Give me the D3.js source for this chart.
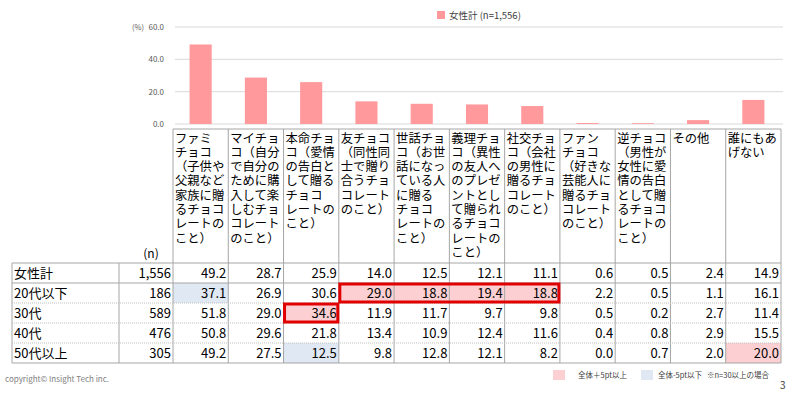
<!DOCTYPE html>
<html>
<head>
<meta charset="utf-8">
<script src="https://cdn.jsdelivr.net/npm/d3@7"></script>
<style>
  body { margin:0; background:#fff; }
  svg { display:block; font-family:"Noto Sans CJK JP","Noto Sans",sans-serif; }
</style>
</head>
<body>
<svg id="chart" width="800" height="399"></svg>
<script>
// Categories (header text, line-broken as in the table)
const categories = ["ファミチョコ","マイチョコ","本命チョコ","友チョコ","世話チョコ","義理チョコ","社交チョコ","ファンチョコ","逆チョコ","その他","誰にもあげない"];
const headerLines = [
  ["ファミ","チョコ","（子供や","父親など","家族に贈","るチョコ","レートの","こと）"],
  ["マイチョ","コ（自分","で自分の","ために購","入して楽","しむチョ","コレート","のこと）"],
  ["本命チョ","コ（愛情","の告白と","して贈る","チョコ","レートの","こと）"],
  ["友チョコ","（同性同","士で贈り","合うチョ","コレート","のこと）"],
  ["世話チョ","コ（お世","話になっ","ている人","に贈る","チョコ","レートの","こと）"],
  ["義理チョ","コ（異性","の友人へ","のプレゼ","ントとし","て贈られ","るチョコ","レートの","こと）"],
  ["社交チョ","コ（会社","の男性に","贈るチョ","コレート","のこと）"],
  ["ファン","チョコ","（好きな","芸能人に","贈るチョ","コレート","のこと）"],
  ["逆チョコ","（男性が","女性に愛","情の告白","として贈","るチョコ","レートの","こと）"],
  ["その他"],
  ["誰にもあ","げない"]
];
const rowLabels = ["女性計","20代以下","30代","40代","50代以上"];
const rowN = [1556, 186, 589, 476, 305];
const values = [
  [49.2, 28.7, 25.9, 14.0, 12.5, 12.1, 11.1, 0.6, 0.5, 2.4, 14.9],
  [37.1, 26.9, 30.6, 29.0, 18.8, 19.4, 18.8, 2.2, 0.5, 1.1, 16.1],
  [51.8, 29.0, 34.6, 11.9, 11.7,  9.7,  9.8, 0.5, 0.2, 2.7, 11.4],
  [50.8, 29.6, 21.8, 13.4, 10.9, 12.4, 11.6, 0.4, 0.8, 2.9, 15.5],
  [49.2, 27.5, 12.5,  9.8, 12.8, 12.1,  8.2, 0.0, 0.7, 2.0, 20.0]
];
const yTicks = [0, 20, 40, 60];
// red annotation boxes: [row, first column, last column]
const redBoxes = [[1, 3, 6], [2, 2, 2]];

const svg = d3.select("#chart");
const pink = "#ff999c", hiPink = "#fcd0d2", hiBlue = "#dfe8f3", lineCol = "#a6a6a6";

// layout
const tableLeft = 12, labelRight = 119, nRight = 173, tableRight = 781;
const headTop = 129, dataTop = 263, rowH = 20;

const x = d3.scaleBand().domain(categories).range([nRight, tableRight]).padding(0);
const y = d3.scaleLinear().domain([0, 60]).range([124, 27]);
const rowY = d3.scaleBand().domain(rowLabels).range([dataTop, dataTop + rowH * rowLabels.length]);

// ---- bar chart ----
const gGrid = svg.append("g");
gGrid.selectAll("line").data(yTicks).join("line")
  .attr("x1", 175).attr("x2", 783)
  .attr("y1", d => y(d)).attr("y2", d => y(d))
  .attr("stroke", "#d9d9d9").attr("stroke-width", 1);
gGrid.selectAll("text").data(yTicks).join("text")
  .attr("x", 164).attr("y", d => y(d) + 3)
  .attr("text-anchor", "end").attr("font-size", 8).attr("fill", "#595959")
  .text(d => d3.format(".1f")(d));
svg.append("text").attr("x", 132).attr("y", 30).attr("font-size", 7.5).attr("fill", "#595959").text("(%)");

const barW = x.bandwidth() * 0.4;
svg.append("g").selectAll("rect").data(values[0]).join("rect")
  .attr("x", (d, i) => x(categories[i]) + (x.bandwidth() - barW) / 2)
  .attr("y", d => y(d))
  .attr("width", barW)
  .attr("height", d => y(0) - y(d))
  .attr("fill", pink);

// top legend
svg.append("rect").attr("x", 437).attr("y", 11).attr("width", 8).attr("height", 8).attr("fill", pink);
svg.append("text").attr("x", 449).attr("y", 19).attr("font-size", 9.5).attr("fill", "#404040").text("女性計 (n=1,556)");

// ---- table ----
const gT = svg.append("g");

// highlight fills (vs 女性計: +5pt or more / -5pt or less)
values.forEach((row, r) => {
  if (r === 0) return;
  row.forEach((v, c) => {
    const diff = v - values[0][c];
    let fill = null;
    if (diff >= 5) fill = hiPink;
    else if (diff <= -5) fill = hiBlue;
    if (fill) gT.append("rect")
      .attr("x", x(categories[c])).attr("y", rowY(rowLabels[r]))
      .attr("width", x.bandwidth()).attr("height", rowH).attr("fill", fill);
  });
});

// header cells
headerLines.forEach((lines, c) => {
  const t = gT.append("text").attr("font-size", 12.3).attr("fill", "#000");
  lines.forEach((ln, k) => {
    t.append("tspan").attr("x", x(categories[c]) + 2).attr("y", headTop + 13.5 + k * 14.3).text(ln);
  });
});
gT.append("text").attr("x", 151).attr("y", 258).attr("text-anchor", "middle")
  .attr("font-size", 12).text("(n)");

// grid lines
gT.append("line").attr("x1", nRight).attr("x2", tableRight).attr("y1", headTop).attr("y2", headTop)
  .attr("stroke", lineCol);
const vx = [nRight].concat(categories.map(c => x(c) + x.bandwidth()));
gT.selectAll("line.vh").data(vx).join("line").attr("class", "vh")
  .attr("x1", d => d).attr("x2", d => d).attr("y1", headTop).attr("y2", dataTop + rowH * 5)
  .attr("stroke", lineCol);
[tableLeft, labelRight].forEach(xx => gT.append("line")
  .attr("x1", xx).attr("x2", xx).attr("y1", dataTop).attr("y2", dataTop + rowH * 5).attr("stroke", lineCol));
rowLabels.concat(["end"]).forEach((lab, r) => {
  const yy = dataTop + r * rowH;
  const dotted = r >= 2 && r <= 4;
  gT.append("line").attr("x1", tableLeft).attr("x2", tableRight).attr("y1", yy).attr("y2", yy)
    .attr("stroke", dotted ? "#bfbfbf" : lineCol)
    .attr("stroke-dasharray", dotted ? "1,1" : null);
});

// cell texts
rowLabels.forEach((lab, r) => {
  const by = rowY(lab) + 15;
  gT.append("text").attr("x", 14).attr("y", by).attr("font-size", 13).text(lab);
  gT.append("text").attr("x", nRight - 2).attr("y", by).attr("text-anchor", "end")
    .attr("font-size", 13).text(d3.format(",")(rowN[r]));
  values[r].forEach((v, c) => {
    gT.append("text").attr("x", x(categories[c]) + x.bandwidth() - 2).attr("y", by)
      .attr("text-anchor", "end").attr("font-size", 13).text(d3.format(".1f")(v));
  });
});

// red annotation boxes
redBoxes.forEach(([r, c0, c1]) => {
  gT.append("rect")
    .attr("x", x(categories[c0]) + 1).attr("y", rowY(rowLabels[r]) + 1)
    .attr("width", x(categories[c1]) + x.bandwidth() - x(categories[c0]) - 2)
    .attr("height", rowH - 2)
    .attr("fill", "none").attr("stroke", "#e00000").attr("stroke-width", 3);
});

// bottom legend & footer
svg.append("rect").attr("x", 553).attr("y", 370).attr("width", 12).attr("height", 10).attr("fill", hiPink);
svg.append("text").attr("x", 578).attr("y", 378).attr("font-size", 7.5).attr("fill", "#404040").text("全体＋5pt以上");
svg.append("rect").attr("x", 641).attr("y", 370).attr("width", 12).attr("height", 10).attr("fill", hiBlue);
svg.append("text").attr("x", 658).attr("y", 378).attr("font-size", 7.5).attr("fill", "#404040").text("全体-5pt以下");
svg.append("text").attr("x", 707).attr("y", 378).attr("font-size", 7.5).attr("fill", "#404040").text("※n=30以上の場合");
svg.append("text").attr("x", 780).attr("y", 389).attr("font-size", 10).attr("fill", "#404040").text("3");
svg.append("text").attr("x", 5).attr("y", 382).attr("font-size", 8).attr("fill", "#808080").text("copyright© Insight Tech inc.");
</script>
</body>
</html>
